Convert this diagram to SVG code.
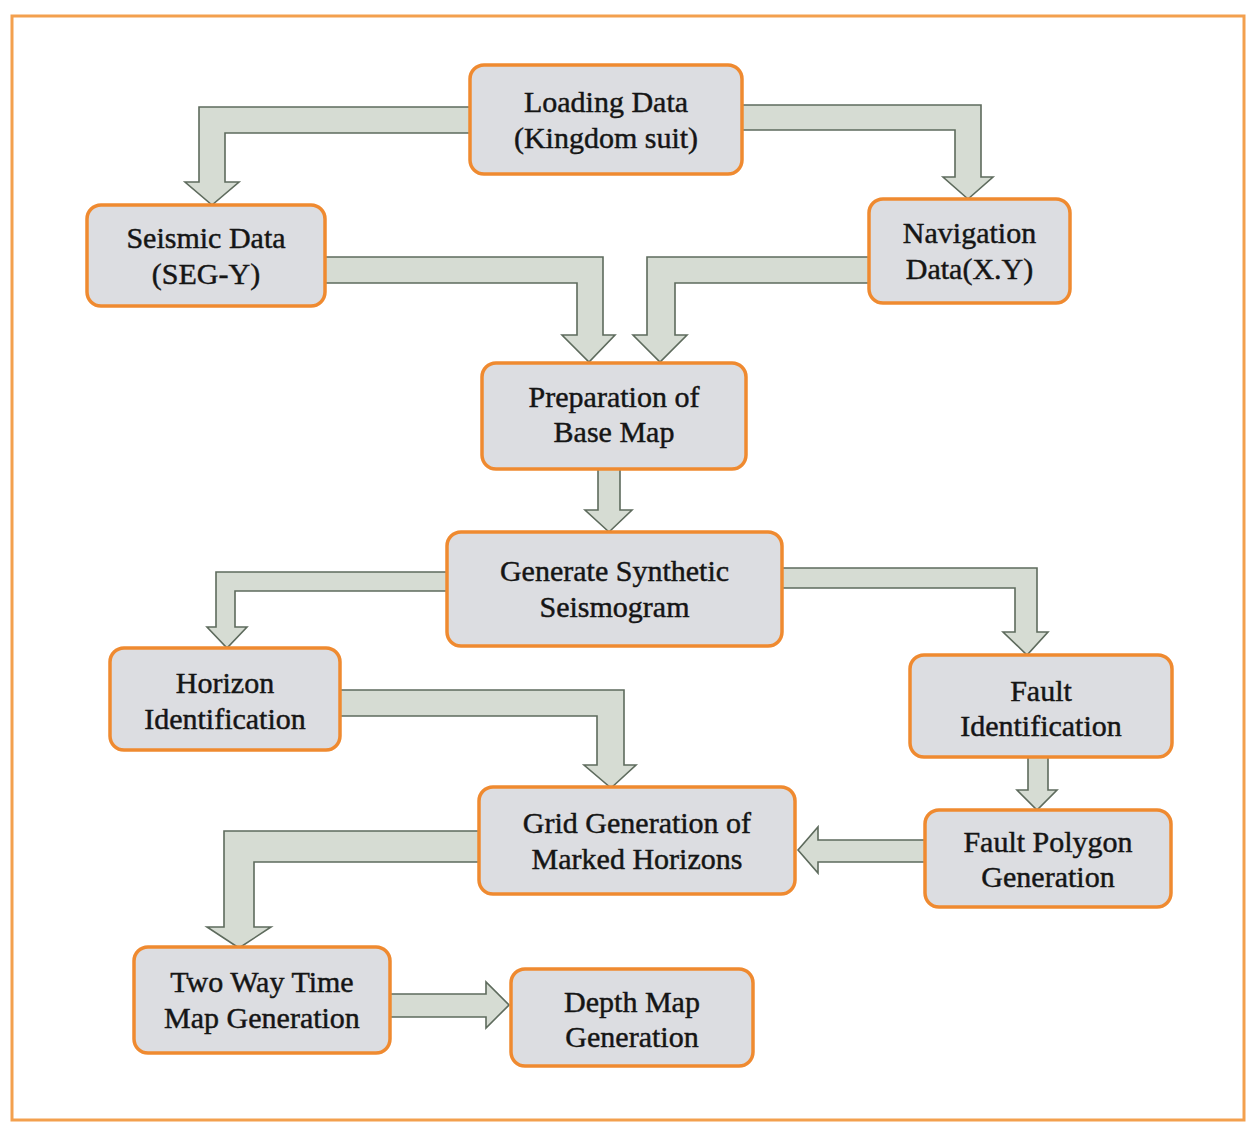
<svg xmlns="http://www.w3.org/2000/svg" width="1249" height="1124" viewBox="0 0 1249 1124">
<style>
.frame{fill:#ffffff;stroke:#f3a04e;stroke-width:3}
.node rect{fill:#dcdde1;stroke:#ef8a30;stroke-width:3.5}
.node text{font-family:"Liberation Serif","Times New Roman",serif;font-size:30px;fill:#151515;stroke:#151515;stroke-width:0.45;text-anchor:middle}
.conn path{fill:#d6dcd3;stroke:#5e6b5d;stroke-width:1.6;stroke-linejoin:miter}
</style>
<rect width="1249" height="1124" fill="#ffffff"/>
<rect class="frame" x="12" y="16" width="1232" height="1104"/>
<g id="connectors" class="conn">
<path d="M470,107 H199 V182 H185 L212,205 L239,182 H225 V133 H470"/>
<path d="M742,105 H981 V177 H993 L968,199 L943,177 H955 V130 H742"/>
<path d="M325,257 H603 V335 H615 L589,362 L562,335 H577 V283 H325"/>
<path d="M869,257 H647 V335 H633 L660,362 L687,335 H675 V283 H869"/>
<path d="M598,468 V510 H585 L609,532 L632,510 H620 V468"/>
<path d="M447,572 H216 V627 H207 L227,648 L247,627 H235 V591 H447"/>
<path d="M782,568 H1037 V632 H1048 L1027,655 L1003,632 H1015 V588 H782"/>
<path d="M340,690 H624 V765 H636 L611,788 L584,765 H597 V716 H340"/>
<path d="M479,831 H224 V927 H207 L239,948 L271,927 H254 V862 H479"/>
<path d="M1028,757 V790 H1017 L1037,810 L1057,790 H1048 V757"/>
<path d="M925,840 H818 V827 L798,850 L818,873 V862 H925"/>
<path d="M390,994 H486 V982 L509,1005 L486,1028 V1017 H390"/>
</g>
<g id="loading" class="node"><rect x="470" y="65" width="272" height="109" rx="14"/><text x="606" y="112">Loading Data</text><text x="606" y="148">(Kingdom suit)</text></g>
<g id="seismic" class="node"><rect x="87" y="205" width="238" height="101" rx="14"/><text x="206" y="248">Seismic Data</text><text x="206" y="284">(SEG-Y)</text></g>
<g id="navigation" class="node"><rect x="869" y="199" width="201" height="104" rx="14"/><text x="969.5" y="243">Navigation</text><text x="969.5" y="279">Data(X.Y)</text></g>
<g id="basemap" class="node"><rect x="482" y="363" width="264" height="106" rx="14"/><text x="614" y="407">Preparation of</text><text x="614" y="442">Base Map</text></g>
<g id="synthetic" class="node"><rect x="447" y="532" width="335" height="114" rx="14"/><text x="614.5" y="581">Generate Synthetic</text><text x="614.5" y="617">Seismogram</text></g>
<g id="horizon" class="node"><rect x="110" y="648" width="230" height="102" rx="14"/><text x="225" y="693">Horizon</text><text x="225" y="729">Identification</text></g>
<g id="fault" class="node"><rect x="910" y="655" width="262" height="102" rx="14"/><text x="1041" y="701">Fault</text><text x="1041" y="736">Identification</text></g>
<g id="faultpolygon" class="node"><rect x="925" y="810" width="246" height="97" rx="14"/><text x="1048" y="852">Fault Polygon</text><text x="1048" y="887">Generation</text></g>
<g id="grid" class="node"><rect x="479" y="787" width="316" height="107" rx="14"/><text x="637" y="833">Grid Generation of</text><text x="637" y="869">Marked Horizons</text></g>
<g id="twt" class="node"><rect x="134" y="947" width="256" height="106" rx="14"/><text x="262" y="992">Two Way Time</text><text x="262" y="1028">Map Generation</text></g>
<g id="depth" class="node"><rect x="511" y="969" width="242" height="97" rx="14"/><text x="632" y="1012">Depth Map</text><text x="632" y="1047">Generation</text></g>
</svg>
